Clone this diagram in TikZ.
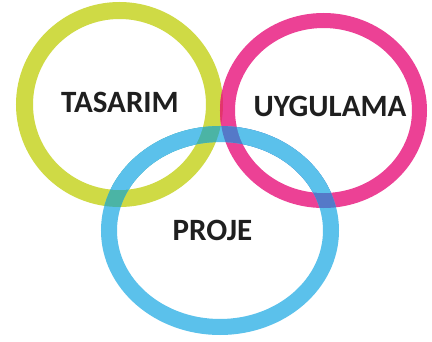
\documentclass[tikz,border=0pt]{standalone}
\usepackage{fontspec}
\setmainfont{Carlito}
\definecolor{cyel}{HTML}{CFDA45}
\definecolor{cpink}{HTML}{EC4195}
\definecolor{cblue}{HTML}{5BC1EB}
\definecolor{cteal}{HTML}{4BB4A5}
\definecolor{cpurp}{HTML}{5579C8}
\definecolor{cred}{HTML}{E3356B}
\tikzset{
  lbl/.style={font=\fontsize{31}{34}\selectfont\bfseries, text=black!88, inner sep=0pt},
  yring/.style={draw=cyel, line width=17pt},
  pring/.style={draw=cpink, line width=15pt},
  bring/.style={draw=cblue, line width=16pt},
}
\begin{document}
\begin{tikzpicture}[x=1pt,y=1pt]
\useasboundingbox[fill=white] (0,0) rectangle (432,341);
\coordinate (cy) at (119.5,236.5);
\coordinate (cp) at (323.5,230.5);
\coordinate (cb) at (220,110.5);
% yellow ring
\draw[yring] (cy) ellipse [x radius=95, y radius=94];
% pink ring
\draw[pring] (cp) ellipse [x radius=96, y radius=90];
% yellow-pink overlap
\begin{scope}
  \clip (cy) ellipse [x radius=103.5, y radius=102.5];
  \draw[pring, draw=cred] (cp) ellipse [x radius=96, y radius=90];
\end{scope}
\begin{scope}
  \clip (cy) ellipse [x radius=86.5, y radius=85.5];
  \draw[pring] (cp) ellipse [x radius=96, y radius=90];
\end{scope}
% blue ring
\draw[bring] (cb) ellipse [x radius=111, y radius=96.5];
% blue over yellow
\begin{scope}
  \clip (cy) ellipse [x radius=103.5, y radius=102.5];
  \draw[bring, draw=cteal] (cb) ellipse [x radius=111, y radius=96.5];
\end{scope}
\begin{scope}
  \clip (cy) ellipse [x radius=86.5, y radius=85.5];
  \draw[bring] (cb) ellipse [x radius=111, y radius=96.5];
\end{scope}
% blue over pink
\begin{scope}
  \clip (cp) ellipse [x radius=103.5, y radius=97.5];
  \draw[bring, draw=cpurp] (cb) ellipse [x radius=111, y radius=96.5];
\end{scope}
\begin{scope}
  \clip (cp) ellipse [x radius=88.5, y radius=82.5];
  \draw[bring] (cb) ellipse [x radius=111, y radius=96.5];
\end{scope}
\node[lbl] (tasarim) at (120,239) {TASARIM};
\node[lbl] (uygulama) at (330,235) {UYGULAMA};
\node[lbl] (proje) at (212.5,111) {PROJE};
\end{tikzpicture}
\end{document}
